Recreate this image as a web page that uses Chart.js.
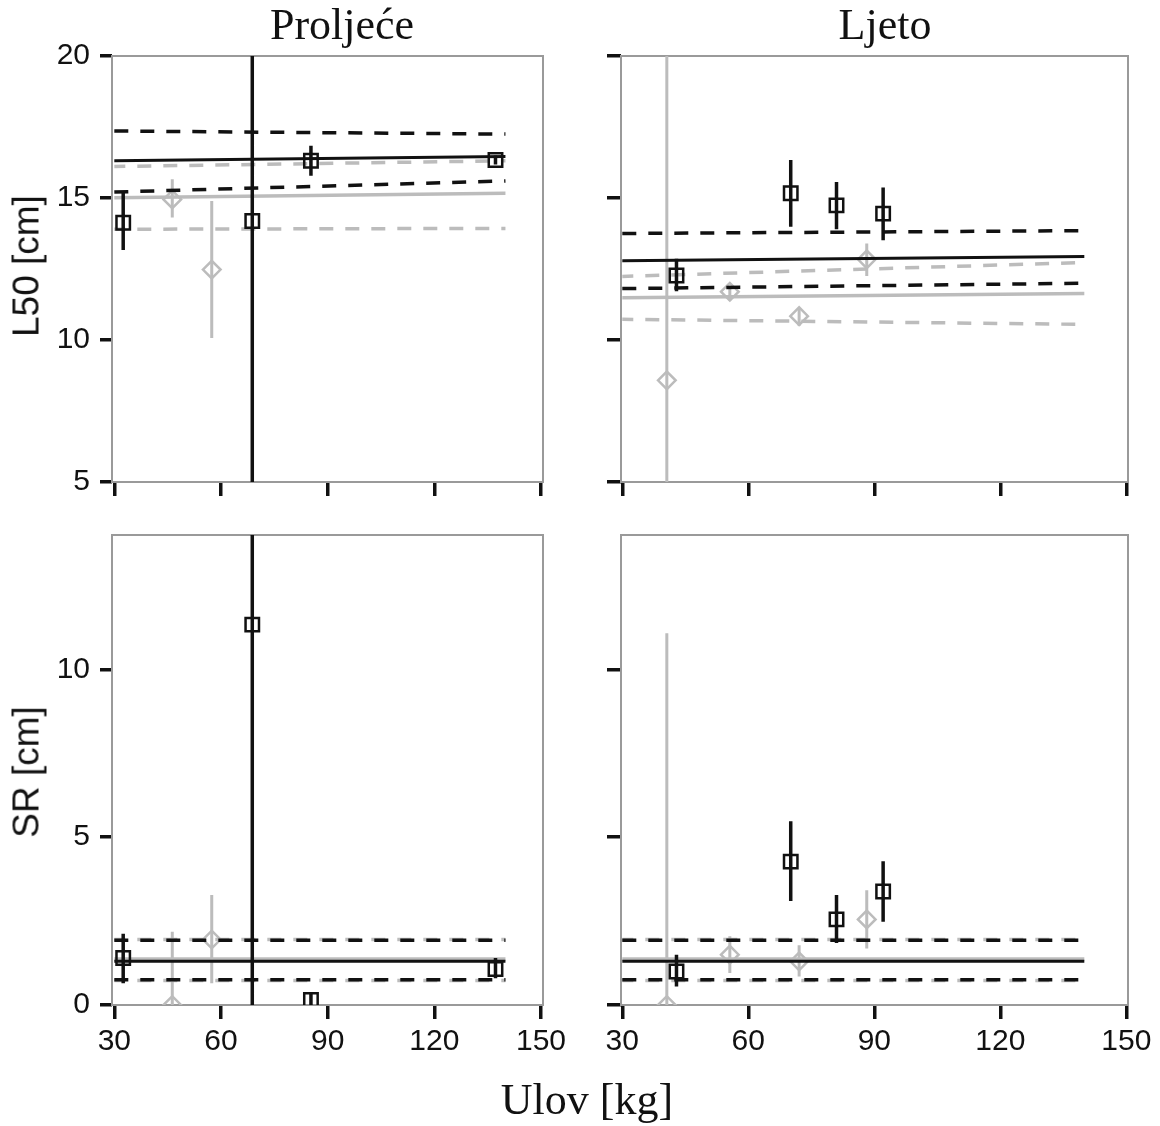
<!DOCTYPE html>
<html><head><meta charset="utf-8">
<script src="https://cdn.jsdelivr.net/npm/chart.js@4/dist/chart.umd.min.js"></script>
<style>
html,body{margin:0;padding:0;background:#fff;}
#wrap{position:relative;width:1160px;height:1126px;overflow:hidden;background:#fff;}
canvas{position:absolute;left:0;top:0;}
.t{position:absolute;white-space:nowrap;line-height:1;color:#111;}
.serif{font-family:'Liberation Serif','Times New Roman',serif;font-size:44px;transform:translateX(-50%);}
.ylab{font-family:'Liberation Sans',Arial,sans-serif;font-size:37px;transform:translate(-50%,-50%) rotate(-90deg);}
</style></head><body>
<div id="wrap">
<canvas id="c0" width="1160" height="1126"></canvas>
<canvas id="c1" width="1160" height="1126"></canvas>
<canvas id="c2" width="1160" height="1126"></canvas>
<canvas id="c3" width="1160" height="1126"></canvas>
<div class="t serif" id="tSpring" style="left:342px;top:3px;"></div>
<div class="t serif" id="tSummer" style="left:885px;top:3px;"></div>
<div class="t serif" id="tX" style="left:587px;top:1078px;"></div>
<div class="t ylab" id="tY0" style="left:26px;top:266px;"></div>
<div class="t ylab" id="tY1" style="left:26px;top:772px;"></div>
</div>
<script>
// ---- text ----
const seasons = ['Proljeće', 'Ljeto'];
const metrics = ['L50 [cm]', 'SR [cm]'];
const xTitle = 'Ulov [kg]';
// ---- ticks ----
const xTicks = [30, 60, 90, 120, 150];
const l50Ticks = [5, 10, 15, 20];
const srTicks = [0, 5, 10];
const fitX = [30, 140];

// ---- Proljeće (spring) ----
const springBlackX = [32.5, 68.8, 85.3, 137.2];
const springGrayX = [46.3, 57.4];
// L50
const springL50Black   = [14.13, 14.19, 16.31, 16.34];
const springL50BlackLo = [13.17, -5.0, 15.78, 16.18];
const springL50BlackHi = [15.19, 40.0, 16.84, 16.50];
const springL50Gray    = [14.95, 12.48];
const springL50GrayLo  = [14.31, 10.07];
const springL50GrayHi  = [15.66, 14.89];
const springL50BlackFit  = [16.31, 16.46];
const springL50BlackUp   = [17.36, 17.25];
const springL50BlackDown = [15.21, 15.60];
const springL50GrayFit   = [15.01, 15.17];
const springL50GrayUp    = [16.11, 16.31];
const springL50GrayDown  = [13.90, 13.93];
// SR
const springSRBlack   = [1.40, 11.33, 0.15, 1.07];
const springSRBlackLo = [0.65, -5.0, -0.30, 0.80];
const springSRBlackHi = [2.12, 40.0, 0.35, 1.40];
const springSRGray    = [0.00, 1.95];
const springSRGrayLo  = [-1.0, 0.65];
const springSRGrayHi  = [2.18, 3.28];
const springSRBlackFit  = [1.30, 1.30];
const springSRBlackUp   = [1.93, 1.93];
const springSRBlackDown = [0.75, 0.75];
const springSRGrayFit   = [1.37, 1.37];
const springSRGrayUp    = [1.95, 1.95];
const springSRGrayDown  = [0.73, 0.73];

// ---- Ljeto (summer) ----
const summerBlackX = [42.9, 70.1, 81.0, 92.1];
const summerGrayX = [40.6, 55.6, 72.1, 88.2];
// L50
const summerL50Black   = [12.27, 15.17, 14.74, 14.45];
const summerL50BlackLo = [11.72, 13.99, 13.90, 13.51];
const summerL50BlackHi = [12.86, 16.34, 15.56, 15.37];
const summerL50Gray    = [8.58, 11.70, 10.84, 12.84];
const summerL50GrayLo  = [-5.0, 11.39, 10.50, 12.25];
const summerL50GrayHi  = [40.0, 11.92, 11.12, 13.40];
const summerL50BlackFit  = [12.79, 12.94];
const summerL50BlackUp   = [13.75, 13.85];
const summerL50BlackDown = [11.81, 12.00];
const summerL50GrayFit   = [11.49, 11.64];
const summerL50GrayUp    = [12.24, 12.73];
const summerL50GrayDown  = [10.73, 10.55];
// SR
const summerSRBlack   = [1.00, 4.27, 2.55, 3.38];
const summerSRBlackLo = [0.55, 3.10, 1.85, 2.48];
const summerSRBlackHi = [1.50, 5.47, 3.28, 4.28];
const summerSRGray    = [0.00, 1.50, 1.30, 2.55];
const summerSRGrayLo  = [-1.0, 0.95, 0.85, 1.68];
const summerSRGrayHi  = [11.07, 2.05, 1.78, 3.42];
const summerSRBlackFit  = [1.30, 1.30];
const summerSRBlackUp   = [1.93, 1.93];
const summerSRBlackDown = [0.75, 0.75];
const summerSRGrayFit   = [1.37, 1.37];
const summerSRGrayUp    = [1.95, 1.95];
const summerSRGrayDown  = [0.73, 0.73];

document.getElementById('tSpring').textContent = seasons[0];
document.getElementById('tSummer').textContent = seasons[1];
document.getElementById('tX').textContent = xTitle;
document.getElementById('tY0').textContent = metrics[0];
document.getElementById('tY1').textContent = metrics[1];

const BLACK = '#111111';
const GRAY = '#bcbcbc';
const FRAME = '#9a9a9a';
const FONT = "'Liberation Sans', Arial, sans-serif";

function pts(xs, ys) { return xs.map((x, i) => ({x: x, y: ys[i]})); }
function bars(xs, lo, hi) {
  const d = [];
  xs.forEach((x, i) => { d.push({x: x, y: lo[i]}); d.push({x: x, y: hi[i]}); d.push({x: x, y: null}); });
  return d;
}
function lineDs(ys, color, width, dash, dashOffset) {
  return {data: pts(fitX, ys), showLine: true, borderColor: color, borderWidth: width,
    borderDash: dash || [], borderDashOffset: dashOffset || 0, pointRadius: 0, fill: false};
}

const framePlugin = {
  id: 'frame',
  beforeDatasetsDraw(chart) {
    const a = chart.chartArea, ctx = chart.ctx;
    ctx.save();
    ctx.strokeStyle = FRAME; ctx.lineWidth = 2;
    ctx.strokeRect(a.left, a.top, a.right - a.left, a.bottom - a.top);
    ctx.restore();
  }
};

function panel(id, area, xr, yr, yTicks, showX, showY, ytl, d) {
  const H = 60;
  const leftPad = showY ? 0 : 500;
  const ds = [
    {data: pts(d.bx, d.by), pointStyle: 'rect', pointRadius: 9.5, borderColor: BLACK,
      backgroundColor: 'rgba(0,0,0,0)', borderWidth: 2.5, showLine: false},
    {data: bars(d.bx, d.blo, d.bhi), showLine: true, spanGaps: false, borderColor: BLACK, borderWidth: 3.5, pointRadius: 0},
    lineDs(d.bfit, BLACK, 3),
    lineDs(d.bup, BLACK, 3.5, [14, 12]),
    lineDs(d.bdown, BLACK, 3.5, [14, 12]),
    {data: pts(d.gx, d.gy), pointStyle: 'rectRot', pointRadius: 8.8, borderColor: GRAY,
      backgroundColor: 'rgba(0,0,0,0)', borderWidth: 2.5, showLine: false},
    {data: bars(d.gx, d.glo, d.ghi), showLine: true, spanGaps: false, borderColor: GRAY, borderWidth: 3, pointRadius: 0},
    lineDs(d.gfit, GRAY, 3.5),
    lineDs(d.gup, GRAY, 3.5, [14, 12], 3),
    lineDs(d.gdown, GRAY, 3.5, [14, 12], 3)
  ];
  new Chart(document.getElementById(id), {
    type: 'scatter',
    data: {datasets: ds},
    plugins: [framePlugin],
    options: {
      responsive: false, animation: false, events: [],
      layout: {padding: {left: leftPad, top: area.t, right: 1160 - area.r, bottom: 1126 - area.b - H}},
      plugins: {legend: {display: false}, tooltip: {enabled: false}},
      scales: {
        x: {
          type: 'linear', position: 'bottom', min: xr[0], max: xr[1],
          afterBuildTicks: s => { s.ticks = xTicks.map(v => ({value: v})); },
          afterFit: s => { s.height = H; },
          ticks: {display: showX, font: {family: FONT, size: 30}, color: BLACK, padding: 5, maxRotation: 0, autoSkip: false},
          grid: {drawOnChartArea: false, drawTicks: true, tickLength: 14, tickWidth: 3.5, lineWidth: 3.5, tickColor: BLACK, color: BLACK},
          border: {display: false}
        },
        y: {
          type: 'linear', position: 'left', min: yr[0], max: yr[1],
          afterBuildTicks: s => { s.ticks = yTicks.map(v => ({value: v})); },
          afterFit: s => { s.width = area.l - leftPad; },
          ticks: {display: showY, font: {family: FONT, size: 30}, color: BLACK, padding: 10, autoSkip: false},
          grid: {drawOnChartArea: false, drawTicks: true, tickLength: ytl, tickWidth: 3.5, lineWidth: 3.5, tickColor: BLACK, color: BLACK},
          border: {display: false}
        }
      }
    }
  });
}

const leftX = [29.35, 150.56];
const rightX = [29.69, 150.4];

panel('c0', {l: 112, t: 56, r: 543, b: 482}, leftX, [5, 20], l50Ticks, false, true, 12, {
  bx: springBlackX, by: springL50Black, blo: springL50BlackLo, bhi: springL50BlackHi,
  gx: springGrayX, gy: springL50Gray, glo: springL50GrayLo, ghi: springL50GrayHi,
  bfit: springL50BlackFit, bup: springL50BlackUp, bdown: springL50BlackDown,
  gfit: springL50GrayFit, gup: springL50GrayUp, gdown: springL50GrayDown});
panel('c1', {l: 621, t: 56, r: 1128, b: 482}, rightX, [5, 20], l50Ticks, false, false, 14, {
  bx: summerBlackX, by: summerL50Black, blo: summerL50BlackLo, bhi: summerL50BlackHi,
  gx: summerGrayX, gy: summerL50Gray, glo: summerL50GrayLo, ghi: summerL50GrayHi,
  bfit: summerL50BlackFit, bup: summerL50BlackUp, bdown: summerL50BlackDown,
  gfit: summerL50GrayFit, gup: summerL50GrayUp, gdown: summerL50GrayDown});
panel('c2', {l: 112, t: 535, r: 543, b: 1005}, leftX, [0, 14], srTicks, true, true, 12, {
  bx: springBlackX, by: springSRBlack, blo: springSRBlackLo, bhi: springSRBlackHi,
  gx: springGrayX, gy: springSRGray, glo: springSRGrayLo, ghi: springSRGrayHi,
  bfit: springSRBlackFit, bup: springSRBlackUp, bdown: springSRBlackDown,
  gfit: springSRGrayFit, gup: springSRGrayUp, gdown: springSRGrayDown});
panel('c3', {l: 621, t: 535, r: 1128, b: 1005}, rightX, [0, 14], srTicks, true, false, 14, {
  bx: summerBlackX, by: summerSRBlack, blo: summerSRBlackLo, bhi: summerSRBlackHi,
  gx: summerGrayX, gy: summerSRGray, glo: summerSRGrayLo, ghi: summerSRGrayHi,
  bfit: summerSRBlackFit, bup: summerSRBlackUp, bdown: summerSRBlackDown,
  gfit: summerSRGrayFit, gup: summerSRGrayUp, gdown: summerSRGrayDown});
</script>
</body></html>
